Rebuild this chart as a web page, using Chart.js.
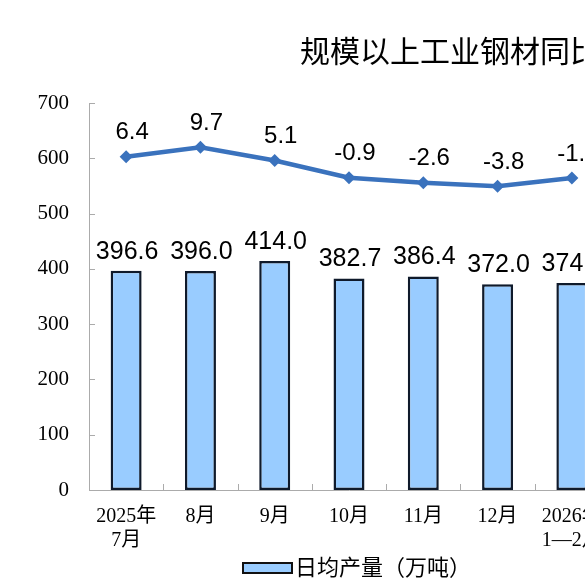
<!DOCTYPE html>
<html><head><meta charset="utf-8">
<script src="https://cdn.jsdelivr.net/npm/chart.js@4.4.1/dist/chart.umd.min.js"></script>
<style>
html,body{margin:0;padding:0;overflow:hidden;background:#fff;width:585px;height:585px}
#wrap{position:absolute;left:0;top:0;width:640px;height:585px}
</style></head>
<body><div id="wrap"><canvas id="c"></canvas></div>
<script>
const categories = [['2025年','7月'],'8月','9月','10月','11月','12月',['2026年','1—2月']];
const dailyOutput = [396.6, 396.0, 414.0, 382.7, 386.4, 372.0, 374.6];
const yoyGrowth = [6.4, 9.7, 5.1, -0.9, -2.6, -3.8, -1.0];
const leftAxisRange = [0, 700, 100];
const rightAxisRange = [-109, 25];
const titleText = '规模以上工业钢材同比增速及日均产量';
const barSeriesName = '日均产量（万吨）';
const lineSeriesName = '同比增长（%）';

const BAR_FILL = '#99CCFF', BAR_EDGE = '#0f1a2b', LINE_COLOR = '#3A72BD', AXIS_GRAY = '#ababab';
const SERIF = '"Liberation Serif", "Noto Sans CJK SC", serif';
const SANS = '"Liberation Sans", Arial, sans-serif';
const CJK = '"Noto Sans CJK SC", sans-serif';

const extras = {
  id: 'extras',
  afterDatasetsDraw(chart) {
    const ctx = chart.ctx;
    const ca = chart.chartArea;
    const y = chart.scales.y, x = chart.scales.x;
    ctx.save();
    // inner tick marks
    ctx.strokeStyle = AXIS_GRAY; ctx.lineWidth = 1;
    y.ticks.forEach(t => {
      const py = Math.round(y.getPixelForValue(t.value)) + 0.5;
      ctx.beginPath(); ctx.moveTo(ca.left, py); ctx.lineTo(ca.left + 6, py); ctx.stroke();
    });
    const step = (x.getPixelForValue(1) - x.getPixelForValue(0));
    for (let i = 1; i <= categories.length; i++) {
      const px = Math.round(x.getPixelForValue(i - 1) + step / 2) + 0.5;
      ctx.beginPath(); ctx.moveTo(px, ca.bottom); ctx.lineTo(px, ca.bottom - 6); ctx.stroke();
    }
    // value labels
    ctx.fillStyle = '#000';
    ctx.textAlign = 'center'; ctx.textBaseline = 'middle';
    ctx.font = '25px ' + SANS;
    chart.getDatasetMeta(1).data.forEach((b, i) => {
      ctx.fillText(dailyOutput[i].toFixed(1), b.x + 1, b.y - 19);
    });
    ctx.font = '24px ' + SANS;
    chart.getDatasetMeta(0).data.forEach((p, i) => {
      ctx.fillText(yoyGrowth[i].toFixed(1), p.x + 6, p.y - 24);
    });
    // title
    ctx.textAlign = 'left';
    ctx.font = '30px ' + CJK;
    ctx.fillText(titleText, 300, 51);
    // legend
    ctx.fillStyle = BAR_FILL;
    ctx.fillRect(243, 563, 49, 10);
    ctx.strokeStyle = '#111'; ctx.lineWidth = 2;
    ctx.strokeRect(243, 563, 49, 10);
    ctx.fillStyle = '#000';
    ctx.font = '22px ' + CJK;
    ctx.fillText(barSeriesName, 295, 567);
    ctx.restore();
  }
};

new Chart(document.getElementById('c'), {
  data: {
    labels: categories,
    datasets: [
      {
        type: 'line', label: lineSeriesName, data: yoyGrowth, yAxisID: 'y1', order: 0,
        borderColor: LINE_COLOR, backgroundColor: LINE_COLOR, borderWidth: 4.5,
        pointStyle: 'rectRot', pointRadius: 6.5, pointBackgroundColor: LINE_COLOR, pointBorderWidth: 0,
        tension: 0
      },
      {
        type: 'bar', label: barSeriesName, data: dailyOutput, yAxisID: 'y', order: 1,
        backgroundColor: BAR_FILL, borderColor: BAR_EDGE, borderWidth: 2.5, borderSkipped: false,
        categoryPercentage: 1, barPercentage: 0.417
      }
    ]
  },
  options: {
    responsive: true, maintainAspectRatio: false, animation: false,
    layout: { padding: { top: 103, right: 31, bottom: 0, left: 0 } },
    plugins: { legend: { display: false }, tooltip: { enabled: false }, title: { display: false } },
    scales: {
      x: {
        grid: { display: false, drawTicks: false },
        border: { display: true, color: AXIS_GRAY, width: 1 },
        ticks: { color: '#000', font: { family: SERIF, size: 20, lineHeight: 1.2 }, padding: 15, maxRotation: 0, autoSkip: false },
        afterFit(s) { s.height = 95; }
      },
      y: {
        position: 'left', min: leftAxisRange[0], max: leftAxisRange[1],
        grid: { display: false, drawTicks: false },
        border: { display: true, color: AXIS_GRAY, width: 1 },
        ticks: { stepSize: leftAxisRange[2], color: '#000', font: { family: SERIF, size: 21 }, padding: 20 },
        afterFit(s) { s.width = 89; }
      },
      y1: {
        position: 'right', display: false, min: rightAxisRange[0], max: rightAxisRange[1]
      }
    }
  },
  plugins: [extras]
});
</script>
</body></html>
